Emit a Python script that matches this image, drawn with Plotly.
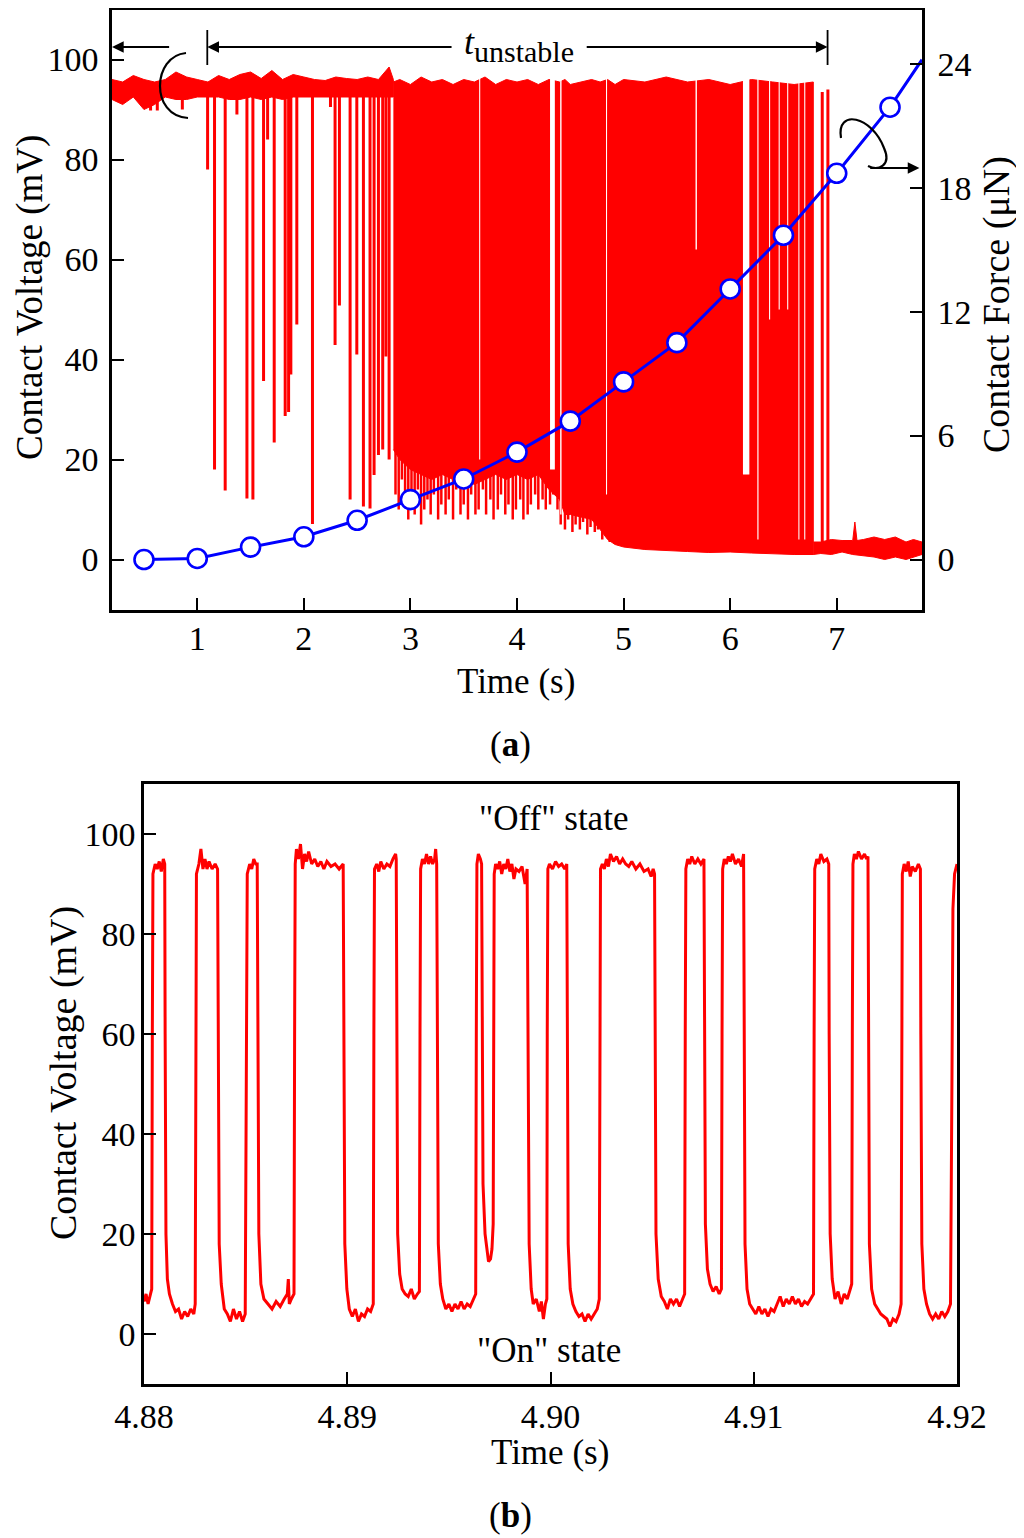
import plotly.graph_objects as go

# ---------------- panel (a): contact voltage over the whole test ----------------
# stable "off" band before the unstable period (time s, band top / bottom mV)
pre_t = [0.2, 0.3, 0.4, 0.5, 0.6, 0.7, 0.8, 0.9, 1.0, 1.1, 1.2, 1.3, 1.4, 1.5,
         1.6, 1.7, 1.8, 1.9, 2.0, 2.1, 2.2, 2.3, 2.4, 2.5, 2.6, 2.7, 2.8, 2.84]
pre_hi = [96, 95.5, 96.8, 96, 95.5, 96, 97.5, 96.5, 96, 95.5, 96.8, 96, 97, 97.5,
          96.2, 97.8, 96, 97, 96.5, 96, 95.8, 96.5, 96.2, 96, 96.5, 96, 98.5, 96]
pre_lo = [92, 91, 92.5, 90, 91, 92.5, 92, 92, 92.5, 92.5, 92.5, 92, 92, 92.5,
          92, 92.5, 92, 92.5, 92.5, 92.5, 92.5, 92.5, 92.5, 92.5, 92.5, 92.5, 92.5, 92.5]

# isolated drops to the "on" level (time s, lowest mV)
spike_t = [0.562, 0.625, 0.86, 1.097, 1.162, 1.262, 1.372, 1.466, 1.522, 1.622,
           1.66, 1.722, 1.825, 1.857, 1.878, 1.934, 2.081, 2.25, 2.293, 2.334,
           2.434, 2.497, 2.559, 2.621, 2.659, 2.70, 2.74, 2.77, 2.80]
spike_lo = [89.8, 89.8, 90, 78, 18, 13.8, 89, 12.2, 12, 35.7,
            84, 23.4, 28.7, 29.5, 37, 47, 7.1, 90.5, 42.9, 50.8,
            12, 41, 10.6, 10.2, 16.9, 20.9, 22, 40.6, 20]
spike_base = 93

# dense switching region: solid envelope of the trace
dense_t = [2.84, 2.9, 3.0, 3.1, 3.2, 3.3, 3.4, 3.5, 3.6, 3.7, 3.8, 3.9, 4.0, 4.1,
           4.2, 4.3, 4.4, 4.45, 4.5, 4.6, 4.7, 4.78, 4.85, 4.92, 5.0, 5.2, 5.4, 5.6,
           5.8, 6.0, 6.2, 6.4, 6.6, 6.78]
dense_hi = [95.5, 96, 95, 96.5, 95.5, 96, 95, 96, 95.5, 96.5, 95, 96, 95.5, 96,
            95, 96, 95.5, 96, 95, 95.5, 96, 95.5, 96, 95, 96, 95.5, 96.5, 95.5,
            96, 95, 96, 95.5, 95, 95.5]
dense_lo = [22, 20, 18, 17, 16, 17, 16, 16, 15, 16, 17, 16, 17, 16,
            17, 14, 12, 9, 9, 8.5, 8, 6, 4, 3, 2.5, 2, 1.8, 1.6,
            1.4, 1.5, 1.3, 1.1, 1.0, 1.0]

# deepest individual drops along the lower edge of the dense region
fringe_t = [2.86, 2.89, 2.92, 2.95, 2.98, 3.01, 3.04, 3.07, 3.10, 3.13, 3.16, 3.19, 3.22,
            3.26, 3.29, 3.33, 3.36, 3.40, 3.43, 3.47, 3.50, 3.54, 3.57, 3.61, 3.64, 3.68,
            3.71, 3.75, 3.78, 3.82, 3.85, 3.89, 3.92, 3.96, 3.99, 4.03, 4.06, 4.10, 4.13,
            4.17, 4.20, 4.24, 4.27, 4.31, 4.34, 4.38, 4.41, 4.45, 4.48, 4.52, 4.55, 4.59,
            4.62, 4.66, 4.69, 4.73, 4.76, 4.80, 4.83, 4.87, 4.90]
fringe_lo = [13, 10, 16, 11, 8, 12, 9, 14, 7, 10, 12, 9, 13,
             8, 11, 9, 12, 8, 14, 9, 11, 8, 13, 9, 10, 14,
             9, 12, 8, 10, 13, 9, 11, 8, 10, 12, 8, 9, 11,
             13, 10, 12, 10, 11, 13, 10, 7, 6, 8, 5.5, 7, 6,
             7.5, 5, 6.5, 5.5, 6, 4, 5, 3.5, 4]
fringe_base = 30

# short stretches inside the dense region where the contact stayed "on"
gap_t0 = [3.645, 4.310, 4.405, 4.835, 5.675, 6.120, 6.255, 6.365, 6.455, 6.535, 6.640, 6.695]
gap_t1 = [3.655, 4.355, 4.418, 4.845, 5.688, 6.180, 6.266, 6.375, 6.465, 6.545, 6.650, 6.705]
gap_lo = [20, 18, 9, 13, 62, 17, 4, 48, 50, 50, 4, 4]

# stable "on" band after the unstable period
post_t = [6.78, 6.85, 6.95, 7.05, 7.15, 7.17, 7.19, 7.25, 7.35, 7.45, 7.55, 7.65, 7.72, 7.8]
post_hi = [3.5, 3.5, 4, 3.8, 3.8, 7.5, 3.8, 4, 4.5, 4, 4.5, 3.5, 4, 3.5]
post_lo = [1, 1.2, 1, 1.5, 1, 1, 1, 0.8, 0.5, 0, 0.5, 0, 0.5, 1]

# last two openings
late_t = [6.864, 6.917]
late_top = [93.5, 94]
late_base = 2

# contact force (uN)
force_t = [0.5, 1.0, 1.5, 2.0, 2.5, 3.0, 3.5, 4.0, 4.5, 5.0, 5.5, 6.0, 6.5, 7.0, 7.5, 7.8]
force = [0, 0.05, 0.6, 1.1, 1.9, 2.9, 3.9, 5.2, 6.7, 8.6, 10.5, 13.1, 15.7, 18.7, 21.9, 24.2]

# ---------------- panel (b): zoom 4.88 - 4.92 s, (ms after 4.88 s, mV) ----------------
on_off_samples = [
    (0.00, 6.5), (0.10, 8), (0.20, 6), (0.30, 7.5), (0.38, 9),
    (0.41, 60), (0.44, 92), (0.55, 94), (0.65, 93), (0.75, 94.5), (0.85, 92.5), (0.95, 95), (1.02, 94),
    (1.04, 60), (1.08, 20), (1.15, 11), (1.25, 8), (1.40, 6), (1.55, 4.5), (1.70, 5), (1.85, 3),
    (2.00, 4.5), (2.15, 3.5), (2.30, 5), (2.45, 4), (2.52, 6),
    (2.55, 60), (2.58, 92), (2.70, 94), (2.80, 97), (2.90, 93), (3.00, 95), (3.10, 93), (3.20, 94.5),
    (3.35, 93), (3.50, 94), (3.62, 93),
    (3.65, 60), (3.70, 18), (3.80, 10), (3.95, 5), (4.10, 4), (4.25, 2.5), (4.40, 5), (4.55, 3),
    (4.70, 4.5), (4.85, 2.5), (4.98, 4),
    (5.05, 60), (5.08, 92), (5.20, 94), (5.30, 93), (5.40, 95), (5.50, 94), (5.57, 94),
    (5.60, 60), (5.65, 20), (5.75, 10), (5.90, 7), (6.10, 6), (6.30, 5), (6.50, 6.5), (6.70, 5.5),
    (6.90, 7), (7.05, 8), (7.10, 11), (7.15, 6), (7.25, 7), (7.38, 8),
    (7.41, 60), (7.44, 94), (7.50, 97), (7.60, 95), (7.70, 98), (7.80, 93), (7.90, 96), (8.00, 94.5),
    (8.10, 96.5), (8.25, 94), (8.40, 95), (8.55, 93.5), (8.70, 94.5), (8.85, 93), (9.00, 94.5),
    (9.20, 93.5), (9.40, 94), (9.60, 93), (9.80, 94),
    (9.83, 60), (9.88, 18), (9.98, 9), (10.10, 5), (10.25, 3.5), (10.40, 5), (10.55, 2.5), (10.70, 4),
    (10.85, 3.5), (11.00, 5), (11.15, 4.5), (11.28, 6),
    (11.31, 60), (11.34, 93), (11.45, 94), (11.55, 92.5), (11.65, 94.5), (11.80, 93), (11.95, 94),
    (12.10, 93.5), (12.25, 95), (12.38, 96), (12.41, 95),
    (12.43, 60), (12.48, 20), (12.58, 12), (12.70, 9), (12.85, 8), (13.00, 7.5), (13.15, 9), (13.30, 7),
    (13.45, 8), (13.55, 8.5),
    (13.58, 60), (13.61, 93), (13.70, 95), (13.80, 94), (13.90, 96), (14.00, 94), (14.10, 95.5),
    (14.20, 94), (14.30, 95), (14.35, 97), (14.40, 94),
    (14.43, 60), (14.48, 18), (14.58, 10), (14.70, 7), (14.85, 5), (15.00, 6), (15.15, 4.5), (15.30, 6),
    (15.45, 5), (15.60, 6.5), (15.75, 5), (15.90, 6), (16.05, 5.5), (16.20, 7), (16.32, 8),
    (16.35, 60), (16.38, 94), (16.45, 96), (16.55, 95), (16.61, 94),
    (16.63, 60), (16.68, 30), (16.78, 20), (16.88, 16), (16.95, 14.5), (17.05, 15), (17.12, 17), (17.18, 22),
    (17.20, 60), (17.23, 92), (17.30, 94), (17.40, 93), (17.50, 94.5), (17.60, 92), (17.70, 94),
    (17.80, 93), (17.90, 95), (18.00, 92.5), (18.10, 94), (18.20, 91), (18.30, 93), (18.45, 92.5),
    (18.60, 93.5), (18.75, 90), (18.85, 93),
    (18.90, 60), (18.95, 18), (19.05, 9), (19.15, 6), (19.30, 7), (19.45, 4.5), (19.55, 6.5), (19.65, 3),
    (19.75, 6), (19.82, 7),
    (19.84, 60), (19.87, 93), (19.95, 94), (20.10, 93), (20.25, 94.5), (20.40, 93.5), (20.55, 94),
    (20.70, 93), (20.80, 94),
    (20.82, 60), (20.87, 18), (20.97, 9), (21.10, 6), (21.25, 4.5), (21.40, 3.5), (21.55, 4), (21.70, 2.5),
    (21.85, 4), (22.00, 3), (22.15, 4), (22.30, 5), (22.40, 7),
    (22.43, 60), (22.46, 93), (22.55, 94), (22.65, 93), (22.75, 95), (22.85, 93.5), (22.95, 96),
    (23.10, 94.5), (23.25, 95.5), (23.40, 94), (23.55, 95), (23.70, 94), (23.85, 93.5), (24.00, 94.5),
    (24.20, 93), (24.40, 94), (24.60, 92.5), (24.80, 93), (24.95, 91.5), (25.05, 93), (25.12, 92),
    (25.14, 60), (25.19, 20), (25.30, 11), (25.45, 7.5), (25.60, 6.5), (25.75, 5), (25.90, 7),
    (26.05, 6), (26.20, 7), (26.35, 5.5), (26.50, 7), (26.60, 8),
    (26.63, 60), (26.66, 93), (26.75, 95), (26.85, 94), (26.95, 95.5), (27.10, 94), (27.25, 95),
    (27.40, 94), (27.55, 95),
    (27.57, 60), (27.62, 22), (27.72, 13), (27.85, 10), (28.00, 8.5), (28.15, 9.5), (28.30, 8), (28.41, 9),
    (28.44, 60), (28.47, 93), (28.55, 95), (28.65, 94), (28.75, 95.5), (28.85, 94.5), (28.95, 96),
    (29.10, 94), (29.25, 95), (29.40, 93.5), (29.50, 96),
    (29.52, 60), (29.57, 18), (29.67, 9), (29.80, 6), (29.95, 5), (30.10, 4), (30.25, 5.5), (30.40, 4),
    (30.55, 5), (30.70, 3.5), (30.85, 5), (31.00, 4.5), (31.15, 6), (31.30, 7.5), (31.45, 5.5),
    (31.60, 7), (31.75, 6), (31.90, 7.5), (32.05, 6), (32.20, 7), (32.35, 5.5), (32.50, 6.5),
    (32.65, 6), (32.80, 7), (32.94, 8),
    (32.97, 60), (33.00, 93), (33.10, 95), (33.20, 94), (33.30, 96), (33.45, 94.5), (33.60, 95), (33.69, 94),
    (33.71, 60), (33.76, 20), (33.86, 11), (34.00, 7), (34.15, 8.5), (34.30, 6), (34.45, 8), (34.60, 7),
    (34.75, 9), (34.82, 10),
    (34.85, 60), (34.88, 94), (34.95, 96), (35.05, 95), (35.15, 96.5), (35.30, 95), (35.45, 96),
    (35.55, 95), (35.62, 95.5),
    (35.64, 60), (35.69, 18), (35.80, 9), (35.95, 6), (36.10, 5), (36.25, 4), (36.40, 3.5), (36.55, 3),
    (36.70, 1.5), (36.85, 3), (37.00, 2.5), (37.15, 4), (37.25, 6),
    (37.28, 60), (37.31, 92), (37.40, 94), (37.50, 92.5), (37.60, 94.5), (37.70, 91.5), (37.80, 93.5),
    (37.95, 92.5), (38.10, 94), (38.20, 93),
    (38.22, 60), (38.27, 18), (38.37, 9), (38.50, 6), (38.65, 4), (38.80, 3), (38.95, 4), (39.10, 3),
    (39.25, 4.5), (39.40, 3.5), (39.55, 4.5), (39.68, 6),
    (39.75, 50), (39.80, 85), (39.88, 92), (40.00, 94),
]

RED = "#ff0000"
BLUE = "#0000ff"
FONT = "Liberation Serif"
PAGE_W, PAGE_H = 1024, 1538
OFF = 8                      # the page body keeps an 8 px margin
W, H = PAGE_W - OFF, PAGE_H - OFF


def fx(x):
    return (x - OFF) / W


def fy(y):
    return 1 - (y - OFF) / H


def band(t, hi, lo):
    return t + t[::-1], hi + lo[::-1]


def sticks(ts, y0, y1s):
    xs, ys = [], []
    for t, y1 in zip(ts, y1s):
        xs += [t, t, None]
        ys += [y0, y1, None]
    return xs, ys


def px(x, y):
    return "%.5f,%.5f" % (fx(x), fy(y))


fig = go.Figure()
solid = dict(fill="toself", fillcolor=RED, mode="lines", line=dict(color=RED, width=1),
             xaxis="x", yaxis="y")

x, y = band(pre_t, pre_hi, pre_lo)
fig.add_trace(go.Scatter(x=x, y=y, **solid))

x, y = sticks(spike_t, spike_base, spike_lo)
fig.add_trace(go.Scatter(x=x, y=y, mode="lines", line=dict(color=RED, width=3),
                         xaxis="x", yaxis="y"))

x, y = band(dense_t, dense_hi, dense_lo)
fig.add_trace(go.Scatter(x=x, y=y, **solid))

x, y = sticks(fringe_t, fringe_base, fringe_lo)
fig.add_trace(go.Scatter(x=x, y=y, mode="lines", line=dict(color=RED, width=2.5),
                         xaxis="x", yaxis="y"))

x, y = band(post_t, post_hi, post_lo)
fig.add_trace(go.Scatter(x=x, y=y, **solid))

x, y = sticks(late_t, late_base, late_top)
fig.add_trace(go.Scatter(x=x, y=y, mode="lines", line=dict(color=RED, width=3),
                         xaxis="x", yaxis="y"))

gx, gy = [], []
for t0, t1, lo in zip(gap_t0, gap_t1, gap_lo):
    gx += [t0, t1, t1, t0, t0, None]
    gy += [99, 99, lo, lo, 99, None]
fig.add_trace(go.Scatter(x=gx, y=gy, fill="toself", fillcolor="white", mode="lines",
                         line=dict(color="white", width=0), xaxis="x", yaxis="y"))

fig.add_trace(go.Scatter(
    x=force_t, y=force, mode="lines+markers", xaxis="x", yaxis="y2",
    line=dict(color=BLUE, width=3),
    marker=dict(size=[19] * (len(force_t) - 1) + [0], color="white", opacity=1,
                line=dict(color=BLUE, width=2.6)),
))

b_t = [4.88 + ms / 1000 for ms, _ in on_off_samples]
b_v = [mv for _, mv in on_off_samples]
fig.add_trace(go.Scatter(x=b_t, y=b_v, mode="lines", line=dict(color=RED, width=3),
                         xaxis="x2", yaxis="y3"))

axis_style = dict(showline=True, linecolor="black", linewidth=2.5, ticks="inside",
                  ticklen=12, tickwidth=2, tickcolor="black", showgrid=False,
                  zeroline=False, automargin=False,
                  tickfont=dict(family=FONT, size=34, color="black"))

fig.update_layout(
    width=W, height=H, margin=dict(l=0, r=0, t=0, b=0),
    paper_bgcolor="white", plot_bgcolor="white", showlegend=False,
    xaxis=dict(domain=[fx(112), fx(922)], range=[0.2, 7.8], tickvals=[1, 2, 3, 4, 5, 6, 7],
               anchor="y", mirror=True, ticklabelstandoff=-3, **axis_style),
    yaxis=dict(domain=[fy(609.5), fy(9.5)], range=[-10, 110], tickvals=[0, 20, 40, 60, 80, 100],
               anchor="x", ticklabelstandoff=4, **axis_style),
    yaxis2=dict(overlaying="y", side="right", range=[-2.42, 26.63], tickvals=[0, 6, 12, 18, 24],
                anchor="x", ticklabelstandoff=6, **axis_style),
    xaxis2=dict(domain=[fx(144), fx(957)], range=[4.88, 4.92],
                tickvals=[4.88, 4.89, 4.90, 4.91, 4.92],
                ticktext=["4.88", "4.89", "4.90", "4.91", "4.92"],
                anchor="y3", mirror=True, ticklabelstandoff=0, **axis_style),
    yaxis3=dict(domain=[fy(1384), fy(784)], range=[-10, 110],
                tickvals=[0, 20, 40, 60, 80, 100], anchor="x2", mirror=True,
                ticklabelstandoff=-1, **axis_style),
)


def label(x, y, text, angle=0, size=35):
    fig.add_annotation(x=fx(x), y=fy(y), xref="paper", yref="paper", text=text,
                       showarrow=False, textangle=angle, xanchor="center", yanchor="middle",
                       font=dict(family=FONT, size=size, color="black"))


label(30, 298, "Contact Voltage (mV)", angle=-90, size=37)
label(997, 305, "Contact Force (μN)", angle=-90, size=38)
label(516, 681, "Time (s)")
label(510, 744, "(<b>a</b>)")
label(63, 1073, "Contact Voltage (mV)", angle=-90, size=38)
label(550, 1452, "Time (s)")
label(510, 1515, "(<b>b</b>)")
label(553, 818, "\"Off\" state")
label(549, 1350, "\"On\" state")
label(519, 45, '<i>t</i><sub><span style="font-size:30px">unstable</span></sub>', size=36)

# arrows of panel (a)
arrow = dict(showarrow=True, arrowhead=2, arrowsize=1.3, arrowwidth=1.8, arrowcolor="black",
             text="", xref="x", yref="y", axref="x", ayref="y")
fig.add_annotation(x=0.2, y=102.5, ax=0.75, ay=102.5, **arrow)
fig.add_annotation(x=1.094, y=102.5, ax=3.40, ay=102.5, **arrow)
fig.add_annotation(x=6.914, y=102.5, ax=4.64, ay=102.5, **arrow)
fig.add_annotation(x=7.776, y=78.3, ax=7.30, ay=78.3, **arrow)

for t in [1.094, 6.914]:
    fig.add_shape(type="line", xref="x", yref="y", x0=t, x1=t, y0=98.9, y1=105.9,
                  line=dict(color="black", width=1.8))

# arcs that tie each trace to its axis
fig.add_shape(type="path", xref="paper", yref="paper",
              path="M%s C%s %s %s" % (px(186, 53), px(152, 56), px(150, 116), px(188, 118)),
              line=dict(color="black", width=2.2))
fig.add_shape(type="path", xref="paper", yref="paper",
              path="M%s C%s %s %s C%s %s %s" % (px(841, 138), px(836, 108), px(872, 116),
                                                px(884, 148), px(892, 166), px(878, 171),
                                                px(868, 166)),
              line=dict(color="black", width=2.2))

fig.write_html("out.html")
